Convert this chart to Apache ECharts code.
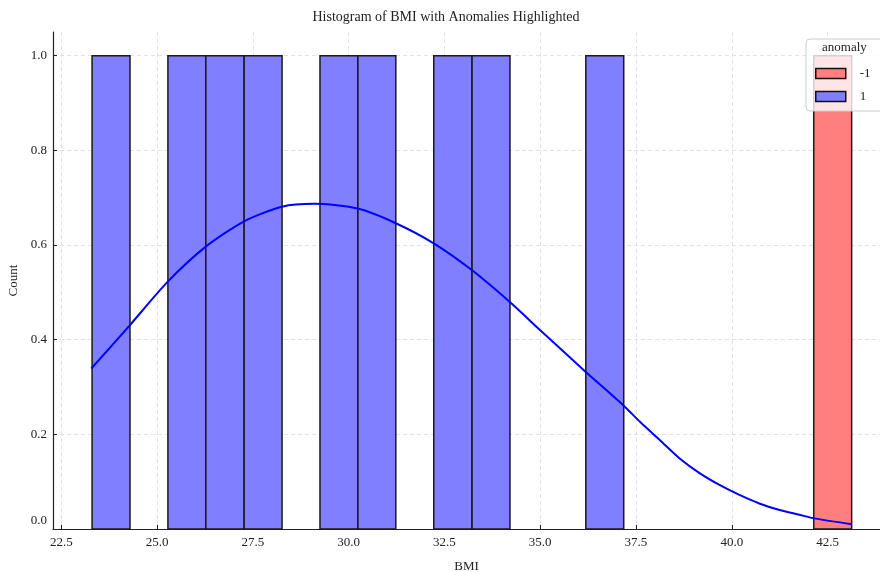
<!DOCTYPE html>
<html>
<head>
<meta charset="utf-8">
<script src="https://cdn.jsdelivr.net/npm/echarts@6/dist/echarts.min.js"></script>
<style>
  html, body { margin: 0; padding: 0; background: #fff; }
  #chart { width: 880px; height: 572px; }
</style>
</head>
<body>
<div id="chart"></div>
<script>
// histogram bins (20 bins between these edges)
const binEdges = [23.30, 24.29, 25.28, 26.27, 27.27, 28.26, 29.25, 30.24, 31.23, 32.22,
  33.22, 34.21, 35.20, 36.19, 37.18, 38.17, 39.16, 40.16, 41.15, 42.14, 43.13]
const normalCounts = [1, 0, 1, 1, 1, 0, 1, 1, 0, 1, 1, 0, 0, 1, 0, 0, 0, 0, 0, 0]
const anomalyCounts = [0, 0, 0, 0, 0, 0, 0, 0, 0, 0, 0, 0, 0, 0, 0, 0, 0, 0, 0, 1]

// kde curve
const kdeX = [23.28, 24.28, 25.27, 26.26, 27.27, 28.26, 29.11, 30.24, 31.23, 32.23,
  33.23, 34.20, 35.00, 36.16, 37.16, 37.61, 38.12, 38.64, 39.16, 39.68, 40.20, 40.72,
  41.25, 41.77, 42.12, 43.13]
const kdeY = [0.339, 0.430, 0.522, 0.596, 0.650, 0.681, 0.687, 0.677, 0.646, 0.603,
  0.546, 0.480, 0.420, 0.334, 0.262, 0.226, 0.188, 0.149, 0.118, 0.093, 0.072, 0.054,
  0.040, 0.030, 0.023, 0.010]

const xTicks = [22.5, 25.0, 27.5, 30.0, 32.5, 35.0, 37.5, 40.0, 42.5]
const yTicks = [0.0, 0.2, 0.4, 0.6, 0.8, 1.0]

const BLUE = '#7f7fff'
const RED = '#ff7f7f'
const FONT = "'Liberation Serif', 'Times New Roman', serif"

const toBars = counts => counts
  .map((c, i) => [binEdges[i], binEdges[i + 1], c])
  .filter(d => d[2] > 0)

const renderBar = color => (params, api) => {
  const p0 = api.coord([api.value(0), api.value(2)])
  const p1 = api.coord([api.value(1), 0])
  return {
    type: 'rect',
    shape: { x: p0[0], y: p0[1], width: p1[0] - p0[0], height: p1[1] - p0[1] },
    style: { fill: color, stroke: '#1a1a1a', lineWidth: 1.5 },
  }
}

const chart = echarts.init(document.getElementById('chart'))

const options = {
  animation: false,
  textStyle: { fontFamily: FONT },
  title: {
    text: 'Histogram of BMI with Anomalies Highlighted',
    left: 441,
    textAlign: 'center',
    top: 5,
    textStyle: { fontFamily: FONT, fontSize: 14, fontWeight: 'normal', color: '#222' },
  },
  grid: { left: 53, right: 0, top: 32, bottom: 43, outerBoundsMode: 'none', containLabel: false },
  xAxis: {
    type: 'value',
    min: 22.28,
    max: 43.87,
    name: 'BMI',
    nameLocation: 'middle',
    nameGap: 31,
    nameTextStyle: { fontFamily: FONT, fontSize: 13, color: '#222' },
    axisLine: { onZero: false, lineStyle: { color: '#222', width: 1.2 } },
    axisTick: { inside: true, length: 4, customValues: xTicks, lineStyle: { color: '#222' } },
    axisLabel: {
      customValues: xTicks,
      margin: 7,
      fontFamily: FONT,
      fontSize: 13,
      color: '#222',
      formatter: v => v.toFixed(1),
    },
    splitLine: { show: true, lineStyle: { color: '#dcdcdc', type: [4, 3], width: 0.8 } },
  },
  yAxis: {
    type: 'value',
    min: 0,
    max: 1.05,
    name: 'Count',
    nameLocation: 'middle',
    nameGap: 32,
    nameTextStyle: { fontFamily: FONT, fontSize: 13, color: '#222' },
    axisLine: { show: true, lineStyle: { color: '#222', width: 1.2 } },
    axisTick: { show: true, inside: true, length: 4, customValues: yTicks, lineStyle: { color: '#222' } },
    axisLabel: {
      customValues: yTicks,
      margin: 6,
      fontFamily: FONT,
      fontSize: 13,
      color: '#222',
      formatter: v => (v === 0 ? '{z|0.0}' : v.toFixed(1)),
      rich: { z: { fontFamily: FONT, fontSize: 13, color: '#222', padding: [0, 0, 16, 0] } },
    },
    splitLine: { show: true, lineStyle: { color: '#dcdcdc', type: [4, 3], width: 0.8 } },
  },
  legend: {
    orient: 'vertical',
    left: 806,
    top: 39,
    padding: [28, 24, 8, 9],
    itemWidth: 30,
    itemHeight: 10,
    itemGap: 10,
    backgroundColor: 'rgba(255,255,255,0.8)',
    borderColor: '#cccccc',
    borderWidth: 1,
    borderRadius: 4,
    z: 10,
    textStyle: { fontFamily: FONT, fontSize: 13, color: '#222', padding: [0, 0, 0, 9] },
    data: [
      { name: '-1', icon: 'rect', itemStyle: { color: RED, borderColor: '#111', borderWidth: 1.5 } },
      { name: '1', icon: 'rect', itemStyle: { color: BLUE, borderColor: '#111', borderWidth: 1.5 } },
    ],
  },
  graphic: [{
    type: 'text',
    left: 822,
    top: 41,
    z: 100,
    style: { text: 'anomaly', font: `13px ${FONT}`, fill: '#222' },
  }],
  series: [
    {
      name: '-1',
      type: 'custom',
      renderItem: renderBar(RED),
      itemStyle: { color: RED, borderColor: '#111', borderWidth: 1.5 },
      encode: { x: [0, 1], y: 2 },
      data: toBars(anomalyCounts),
      z: 2,
    },
    {
      name: '1',
      type: 'custom',
      renderItem: renderBar(BLUE),
      itemStyle: { color: BLUE, borderColor: '#111', borderWidth: 1.5 },
      encode: { x: [0, 1], y: 2 },
      data: toBars(normalCounts),
      z: 2,
    },
    {
      name: 'kde',
      type: 'line',
      smooth: 0.25,
      showSymbol: false,
      lineStyle: { color: '#0000ff', width: 2 },
      itemStyle: { color: '#0000ff' },
      data: kdeX.map((x, i) => [x, kdeY[i]]),
      z: 5,
    },
  ],
}

chart.setOption(options)
</script>
</body>
</html>
